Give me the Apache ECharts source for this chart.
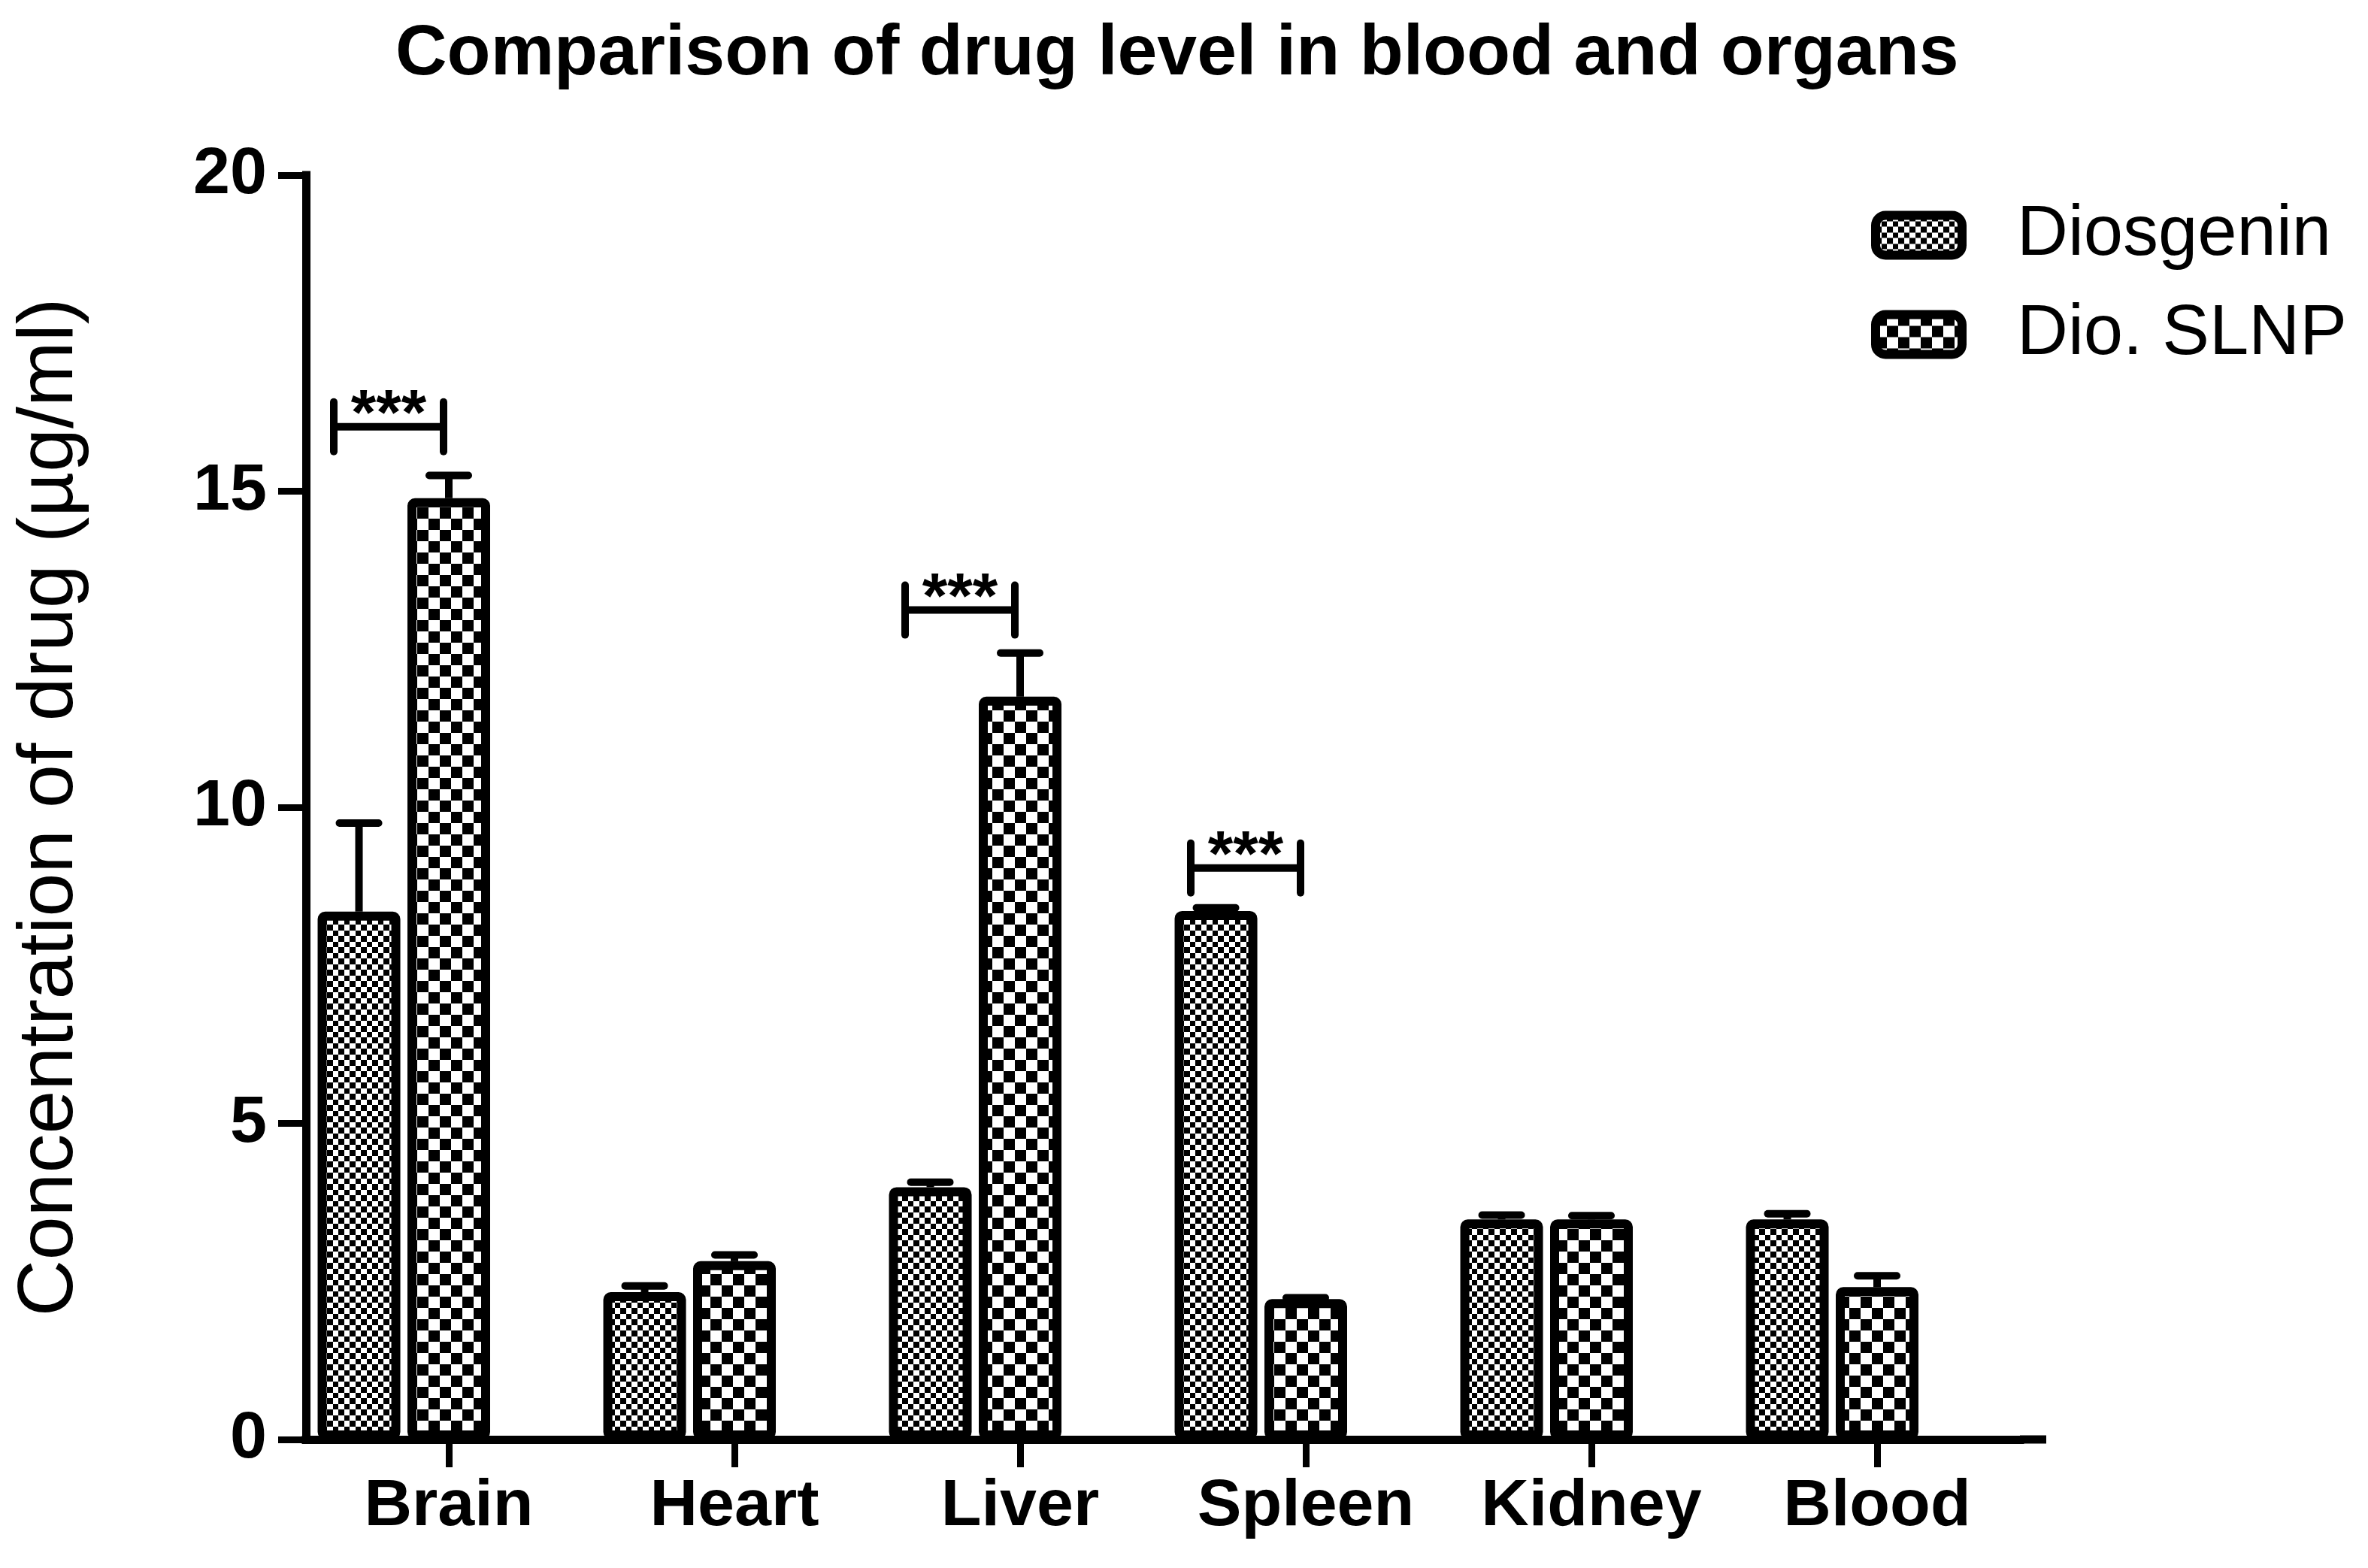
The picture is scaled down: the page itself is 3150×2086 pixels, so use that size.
<!DOCTYPE html>
<html><head><meta charset="utf-8">
<script src="https://cdn.jsdelivr.net/npm/echarts@6/dist/echarts.min.js"></script>
<style>html,body{margin:0;padding:0;background:#fff}#c{width:3150px;height:2086px}</style>
</head><body><div id="c"></div>
<script>
// ---- data ----
const categories = ['Brain', 'Heart', 'Liver', 'Spleen', 'Kidney', 'Blood'];
const diosgenin = [8.35, 2.33, 3.99, 8.36, 3.48, 3.48];
const diosgeninErr = [1.40, 0.10, 0.08, 0.05, 0.07, 0.09];
const slnp = [14.89, 2.82, 11.75, 2.22, 3.48, 2.41];
const slnpErr = [0.36, 0.10, 0.69, 0.02, 0.06, 0.18];
const sigCats = ['Brain', 'Liver', 'Spleen'];
const sigLevels = [16.02, 13.12, 9.04];
const sigLabels = ['***', '***', '***'];
const yTicks = [0, 5, 10, 15, 20];

// ---- style / layout ----
const FONT = '"Liberation Sans", Arial, sans-serif';
const GRID_LEFT = 407, GRID_TOP = 233, AXIS_Y = 1915, BAND = 380, AXIS_END = 2722;
const BAR_W = 110, GAP = 0.086;
const DIO_OFFSET = -(BAR_W * (1 + GAP));

function checker(cell, tile) {
  const c = document.createElement('canvas');
  c.width = c.height = tile;
  const g = c.getContext('2d');
  g.fillStyle = '#fff'; g.fillRect(0, 0, tile, tile);
  g.fillStyle = '#000';
  g.fillRect(0, 0, cell, cell);
  g.fillRect(cell, cell, tile - cell, tile - cell);
  return c;
}
const dioPattern = { image: checker(8, 15), repeat: 'repeat' };
const slnpPattern = { image: checker(15, 30), repeat: 'repeat' };

function errRender(offset) {
  return function (params, api) {
    const i = api.value(0), v = api.value(1), e = api.value(2);
    const base = api.coord([i, v]);
    const tip = api.coord([i, v + e]);
    const x = base[0] + offset;
    return {
      type: 'group', children: [
        { type: 'line', shape: { x1: x, y1: base[1], x2: x, y2: tip[1] }, style: { stroke: '#000', lineWidth: 10 } },
        { type: 'line', shape: { x1: x - 26, y1: tip[1], x2: x + 26, y2: tip[1] }, style: { stroke: '#000', lineWidth: 10, lineCap: 'round' } }
      ]
    };
  };
}

function sigRender(params, api) {
  const i = api.value(0), y = api.value(1);
  const p = api.coord([i, y]);
  const xL = p[0] - 153, xR = p[0] - 7, yy = p[1];
  const st = { stroke: '#000', lineWidth: 10, lineCap: 'round' };
  return {
    type: 'group', children: [
      { type: 'line', shape: { x1: xL, y1: yy, x2: xR, y2: yy }, style: { stroke: '#000', lineWidth: 10 } },
      { type: 'line', shape: { x1: xL, y1: yy - 33, x2: xL, y2: yy + 33 }, style: st },
      { type: 'line', shape: { x1: xR, y1: yy - 33, x2: xR, y2: yy + 33 }, style: st },
      { type: 'text', style: { text: sigLabels[params.dataIndex], x: (xL + xR) / 2, y: yy + 30, align: 'center', verticalAlign: 'bottom', fontSize: 86, fontWeight: 'bold', fontFamily: FONT, fill: '#000' } }
    ]
  };
}

const chart = echarts.init(document.getElementById('c'), null, { renderer: 'canvas' });
chart.setOption({
  animation: false,
  backgroundColor: '#fff',
  title: {
    text: 'Comparison of drug level in blood and organs',
    left: 521, top: 20,
    textStyle: { fontSize: 95, fontWeight: 'bold', fontFamily: FONT, color: '#000' }
  },
  legend: {
    data: ['Diosgenin', 'Dio. SLNP'],
    orient: 'vertical', left: 2484, top: 261,
    itemWidth: 115, itemHeight: 53, itemGap: 38, icon: 'roundRect',
    itemStyle: { borderColor: '#000', borderWidth: 12 },
    textStyle: { fontSize: 94, fontFamily: FONT, color: '#000', padding: [0, 0, 0, 68] }
  },
  grid: {
    left: GRID_LEFT, top: GRID_TOP, width: BAND * categories.length, height: AXIS_Y - GRID_TOP,
    containLabel: false, outerBoundsMode: 'none'
  },
  xAxis: {
    type: 'category', data: categories,
    axisLine: { show: true, lineStyle: { color: '#000', width: 11, cap: 'square' } },
    axisTick: { show: true, interval: 0, alignWithLabel: true, length: 37, lineStyle: { color: '#000', width: 9 } },
    axisLabel: { interval: 0, margin: 46, fontSize: 88, fontWeight: 'bold', fontFamily: FONT, color: '#000' },
    splitLine: { show: false }
  },
  yAxis: {
    type: 'value', min: yTicks[0], max: yTicks[yTicks.length - 1], interval: yTicks[1] - yTicks[0],
    name: 'Concentration of drug (µg/ml)', nameLocation: 'middle', nameRotate: 90, nameGap: 288,
    nameTextStyle: { fontSize: 104, fontFamily: FONT, color: '#000' },
    axisLine: { show: true, lineStyle: { color: '#000', width: 11, cap: 'square' } },
    axisTick: { show: true, length: 37, lineStyle: { color: '#000', width: 9 } },
    axisLabel: { margin: 52, fontSize: 88, fontWeight: 'bold', fontFamily: FONT, color: '#000' },
    splitLine: { show: false }
  },
  series: [
    { name: 'Diosgenin', type: 'bar', data: diosgenin, barWidth: BAR_W, barGap: (GAP * 100) + '%',
      itemStyle: { color: dioPattern, borderColor: '#000', borderWidth: 12, borderRadius: 4 } },
    { name: 'Dio. SLNP', type: 'bar', data: slnp, barWidth: BAR_W, barGap: (GAP * 100) + '%',
      itemStyle: { color: slnpPattern, borderColor: '#000', borderWidth: 12, borderRadius: 4 } },
    { name: 'spacer', type: 'bar', data: categories.map(() => '-'), barWidth: BAR_W, barGap: (GAP * 100) + '%',
      silent: true, itemStyle: { opacity: 0 } },
    { type: 'custom', name: 'errDio', renderItem: errRender(DIO_OFFSET), z: 5,
      data: diosgenin.map((v, i) => [i, v, diosgeninErr[i]]) },
    { type: 'custom', name: 'errSlnp', renderItem: errRender(0), z: 5,
      data: slnp.map((v, i) => [i, v, slnpErr[i]]) },
    { type: 'custom', name: 'sig', renderItem: sigRender, z: 5,
      data: sigCats.map((c, k) => [categories.indexOf(c), sigLevels[k]]) }
  ],
  graphic: [
    { type: 'line', shape: { x1: GRID_LEFT + BAND * categories.length, y1: AXIS_Y, x2: AXIS_END, y2: AXIS_Y },
      style: { stroke: '#000', lineWidth: 11 } }
  ]
});
</script></body></html>
